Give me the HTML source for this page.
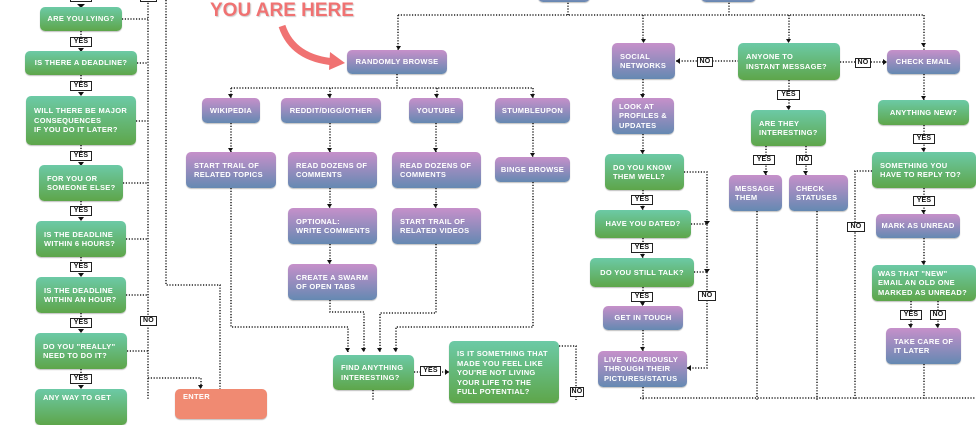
<!DOCTYPE html>
<html><head><meta charset="utf-8"><style>
*{margin:0;padding:0;box-sizing:border-box}
body{width:976px;height:400px;background:#fff;position:relative;overflow:hidden;font-family:"Liberation Sans",sans-serif}
.b{position:absolute;border-radius:5px;color:#fff;font-weight:bold;font-size:7.5px;letter-spacing:.3px;line-height:9.5px;display:flex;align-items:center;padding:0 8px;white-space:nowrap;overflow:hidden;box-shadow:0 1px 1px rgba(0,0,0,.25)}
.c{justify-content:center;text-align:center;padding:0}
.g{background:linear-gradient(#6ccaa6,#5ea64a)}
.p{background:linear-gradient(#c690ca,#6589b2)}
.o{background:#f08a72}
.l{position:absolute;background:#fff;border:1px solid #222;font-size:7px;font-weight:bold;line-height:8px;height:10px;text-align:center;color:#111;letter-spacing:.2px}
svg{position:absolute;left:0;top:0}
.h{position:absolute;left:210px;top:0;color:#f07272;font-weight:bold;font-size:19px;letter-spacing:0;text-shadow:1px 1px 1px rgba(0,0,0,.2)}
</style></head><body>
<svg width="976" height="400">
<g fill="none" stroke="#222" stroke-width="1.5" stroke-dasharray="1.2 1.6">
<path d="M148 0V400M166 0V285H220V390M122 19H148M137 63H148M136 121H148M123 183H148M126 239H148M126 295H148M127 351H148M148 378H201V389"/>
<path d="M81 31V37M81 75V81M81 145V151M81 201V206M81 257V262M81 313V318M81 369V374"/>
<path d="M398 15H924M398 15V50M643 15V43M789 15V43M924 15V50M729 0V15M568 0V15"/>
<path d="M397 74V88M231 88H533M231 88V98M330 88V98M437 88V98M533 88V98"/>
<path d="M231 123V152M330 123V152M330 188V208M330 244V264M436 123V152M436 188V208M533 123V157"/>
<path d="M231 188V327H348V352M330 300V312H364V352M436 244V313H380V352M533 182V327H396V352"/>
<path d="M414 372H449M559 346H576V400M373 390V400"/>
<path d="M676 61H738M840 62H887M643 79V98M643 134V154M643 190V210M643 238V258M643 287V306M643 330V351M643 387V400"/>
<path d="M684 172H707V368H687M691 224H707M694 272H707"/>
<path d="M789 80V110M766 146V175M806 146V175M757 211V400M817 211V400"/>
<path d="M924 74V100M924 125V152M924 188V214M924 238V265M911 301V328M938 301V328M924 364V400M872 171H855V400M640 398H976"/>
</g>
<g fill="#111">
<path d="M77 4h8l-4 4zM396 46h5l-2.5 4zM641 39h5l-2.5 4zM786 39h5l-2.5 4zM921 43h5l-2.5 4zM228 94h5l-2.5 4zM327 94h5l-2.5 4zM434 94h5l-2.5 4zM530 94h5l-2.5 4zM228 148h5l-2.5 4zM327 148h5l-2.5 4zM433 148h5l-2.5 4zM530 153h5l-2.5 4zM327 204h5l-2.5 4zM433 204h5l-2.5 4zM327 260h5l-2.5 4zM345 348h5l-2.5 4zM361 348h5l-2.5 4zM377 348h5l-2.5 4zM393 348h5l-2.5 4zM198 385h5l-2.5 4zM445 369v6l4-3zM680 58v6l-4-3zM883 59v6l4-3zM704 221h6l-3 4zM704 269h6l-3 4zM691 365v6l-4-3zM786 106h5l-2.5 4zM763 171h5l-2.5 4zM803 171h5l-2.5 4zM921 96h5l-2.5 4zM921 148h5l-2.5 4zM921 210h5l-2.5 4zM921 261h5l-2.5 4zM908 324h5l-2.5 4zM935 324h5l-2.5 4zM640 150h5l-2.5 4zM640 206h5l-2.5 4zM640 254h5l-2.5 4zM640 302h5l-2.5 4zM640 347h5l-2.5 4zM640 94h5l-2.5 4zM78 48h6l-3 4zM78 92h6l-3 4zM78 162h6l-3 4zM78 217h6l-3 4zM78 273h6l-3 4zM78 329h6l-3 4zM78 385h6l-3 4z"/>
</g>
<path d="M282 26C290 50 310 60 335 62" fill="none" stroke="#f07272" stroke-width="7"/>
<path d="M330 52L345 63L329 70Z" fill="#f07272"/>
</svg>
<div class="h">YOU ARE HERE</div>
<div class="l" style="left:70px;top:-8px;width:22px">YES</div>
<div class="l" style="left:140px;top:-8px;width:17px">NO</div>
<div class="b g c" style="left:40px;top:7px;width:82px;height:24px">ARE YOU LYING?</div>
<div class="b g c" style="left:25px;top:51px;width:112px;height:24px">IS THERE A DEADLINE?</div>
<div class="b g" style="left:26px;top:96px;width:110px;height:49px">WILL THERE BE MAJOR<br>CONSEQUENCES<br>IF YOU DO IT LATER?</div>
<div class="b g" style="left:39px;top:165px;width:84px;height:36px">FOR YOU OR<br>SOMEONE ELSE?</div>
<div class="b g" style="left:36px;top:221px;width:90px;height:36px">IS THE DEADLINE<br>WITHIN 6 HOURS?</div>
<div class="b g" style="left:36px;top:277px;width:90px;height:36px">IS THE DEADLINE<br>WITHIN AN HOUR?</div>
<div class="b g" style="left:35px;top:333px;width:92px;height:36px">DO YOU "REALLY"<br>NEED TO DO IT?</div>
<div class="b g" style="left:35px;top:389px;width:92px;height:36px;align-items:flex-start;padding-top:4px">ANY WAY TO GET</div>
<div class="l" style="left:70px;top:37px;width:22px">YES</div>
<div class="l" style="left:70px;top:81px;width:22px">YES</div>
<div class="l" style="left:70px;top:151px;width:22px">YES</div>
<div class="l" style="left:70px;top:206px;width:22px">YES</div>
<div class="l" style="left:70px;top:262px;width:22px">YES</div>
<div class="l" style="left:70px;top:318px;width:22px">YES</div>
<div class="l" style="left:70px;top:374px;width:22px">YES</div>
<div class="l" style="left:140px;top:316px;width:17px">NO</div>
<div class="b o" style="left:175px;top:389px;width:92px;height:30px;align-items:flex-start;padding-top:3px">ENTER</div>
<div class="b p c" style="left:347px;top:50px;width:100px;height:24px">RANDOMLY BROWSE</div>
<div class="b p c" style="left:202px;top:98px;width:58px;height:25px">WIKIPEDIA</div>
<div class="b p c" style="left:281px;top:98px;width:100px;height:25px">REDDIT/DIGG/OTHER</div>
<div class="b p c" style="left:409px;top:98px;width:54px;height:25px">YOUTUBE</div>
<div class="b p c" style="left:495px;top:98px;width:75px;height:25px">STUMBLEUPON</div>
<div class="b p" style="left:186px;top:152px;width:90px;height:36px">START TRAIL OF<br>RELATED TOPICS</div>
<div class="b p" style="left:288px;top:152px;width:89px;height:36px">READ DOZENS OF<br>COMMENTS</div>
<div class="b p" style="left:392px;top:152px;width:89px;height:36px">READ DOZENS OF<br>COMMENTS</div>
<div class="b p c" style="left:495px;top:157px;width:75px;height:25px">BINGE BROWSE</div>
<div class="b p" style="left:288px;top:208px;width:89px;height:36px">OPTIONAL:<br>WRITE COMMENTS</div>
<div class="b p" style="left:392px;top:208px;width:89px;height:36px">START TRAIL OF<br>RELATED VIDEOS</div>
<div class="b p" style="left:288px;top:264px;width:89px;height:36px">CREATE A SWARM<br>OF OPEN TABS</div>
<div class="b g" style="left:333px;top:355px;width:81px;height:35px">FIND ANYTHING<br>INTERESTING?</div>
<div class="l" style="left:420px;top:366px;width:21px">YES</div>
<div class="b g" style="left:449px;top:341px;width:110px;height:62px;padding-top:2px">IS IT SOMETHING THAT<br>MADE YOU FEEL LIKE<br>YOU'RE NOT LIVING<br>YOUR LIFE TO THE<br>FULL POTENTIAL?</div>
<div class="l" style="left:570px;top:387px;width:14px">NO</div>
<div class="b p" style="left:538px;top:-10px;width:52px;height:12px"></div>
<div class="b p" style="left:701px;top:-10px;width:55px;height:12px"></div>
<div class="b p" style="left:612px;top:43px;width:63px;height:36px">SOCIAL<br>NETWORKS</div>
<div class="l" style="left:697px;top:57px;width:16px">NO</div>
<div class="b g" style="left:738px;top:43px;width:102px;height:37px">ANYONE TO<br>INSTANT MESSAGE?</div>
<div class="l" style="left:855px;top:58px;width:16px">NO</div>
<div class="b p c" style="left:887px;top:50px;width:73px;height:24px">CHECK EMAIL</div>
<div class="b p" style="left:612px;top:98px;width:62px;height:36px;padding:0 7px">LOOK AT<br>PROFILES &amp;<br>UPDATES</div>
<div class="b g" style="left:605px;top:154px;width:79px;height:36px">DO YOU KNOW<br>THEM WELL?</div>
<div class="l" style="left:631px;top:195px;width:22px">YES</div>
<div class="b g c" style="left:595px;top:210px;width:96px;height:28px">HAVE YOU DATED?</div>
<div class="l" style="left:631px;top:243px;width:22px">YES</div>
<div class="b g c" style="left:590px;top:258px;width:104px;height:29px">DO YOU STILL TALK?</div>
<div class="l" style="left:631px;top:292px;width:22px">YES</div>
<div class="b p c" style="left:603px;top:306px;width:80px;height:24px">GET IN TOUCH</div>
<div class="b p" style="left:598px;top:351px;width:89px;height:36px;padding:0 6px">LIVE VICARIOUSLY<br>THROUGH THEIR<br>PICTURES/STATUS</div>
<div class="l" style="left:698px;top:291px;width:18px">NO</div>
<div class="l" style="left:777px;top:90px;width:23px">YES</div>
<div class="b g" style="left:751px;top:110px;width:75px;height:36px">ARE THEY<br>INTERESTING?</div>
<div class="l" style="left:753px;top:155px;width:22px">YES</div>
<div class="l" style="left:796px;top:155px;width:16px">NO</div>
<div class="b p" style="left:729px;top:175px;width:53px;height:36px;padding:0 6px">MESSAGE<br>THEM</div>
<div class="b p" style="left:789px;top:175px;width:59px;height:36px;padding:0 7px">CHECK<br>STATUSES</div>
<div class="b g c" style="left:878px;top:100px;width:91px;height:25px">ANYTHING NEW?</div>
<div class="l" style="left:913px;top:134px;width:22px">YES</div>
<div class="b g" style="left:872px;top:152px;width:104px;height:36px">SOMETHING YOU<br>HAVE TO REPLY TO?</div>
<div class="l" style="left:913px;top:196px;width:22px">YES</div>
<div class="l" style="left:847px;top:222px;width:18px">NO</div>
<div class="b p c" style="left:876px;top:214px;width:84px;height:24px">MARK AS UNREAD</div>
<div class="b g" style="left:872px;top:265px;width:104px;height:36px;padding:0 6px">WAS THAT "NEW"<br>EMAIL AN OLD ONE<br>MARKED AS UNREAD?</div>
<div class="l" style="left:900px;top:310px;width:22px">YES</div>
<div class="l" style="left:930px;top:310px;width:16px">NO</div>
<div class="b p" style="left:886px;top:328px;width:75px;height:36px">TAKE CARE OF<br>IT LATER</div>
</body></html>
